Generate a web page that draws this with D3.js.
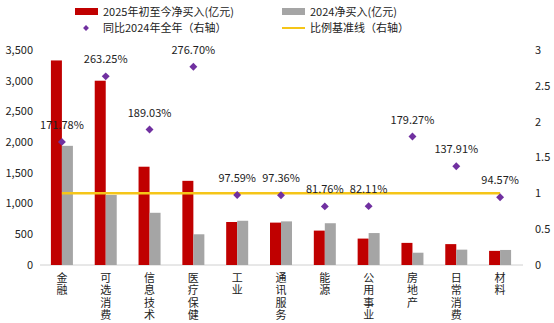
<!DOCTYPE html>
<html><head><meta charset="utf-8">
<script src="https://cdn.jsdelivr.net/npm/d3@7/dist/d3.min.js"></script>
<style>body{margin:0;background:#fff}svg{display:block}text{font-family:"Noto Sans CJK SC","Noto Sans",sans-serif;fill:#222}
.vt{writing-mode:vertical-rl;text-orientation:upright;letter-spacing:1.5px}</style>
</head><body><svg id="c" width="554" height="323"></svg>
<script>
const categories = ["金融","可选消费","信息技术","医疗保健","工业","通讯服务","能源","公用事业","房地产","日常消费","材料"];
const buy2025 = [3330,3000,1600,1370,700,690,560,430,360,340,230];
const buy2024 = [1940,1140,850,500,720,710,680,520,200,250,245];
const ratio = [1.7178,2.6325,1.8903,2.767,0.9759,0.9736,0.8176,0.8211,1.7927,1.3791,0.9457];
const ratioLabels = ["171.78%","263.25%","189.03%","276.70%","97.59%","97.36%","81.76%","82.11%","179.27%","137.91%","94.57%"];
const leftTicks = [0,500,1000,1500,2000,2500,3000,3500];
const rightTicks = [0,0.5,1,1.5,2,2.5,3];
const baseline = 1;
const legendNames = ["2025年初至今净买入(亿元)","2024净买入(亿元)","同比2024年全年（右轴）","比例基准线（右轴）"];

const svg = d3.select("#c");
const x = d3.scaleBand().domain(categories).range([40,522]);
const yL = d3.scaleLinear().domain([0,3500]).range([265,50]);
const yR = d3.scaleLinear().domain([0,3]).range([265,50]);
const bw = 11;

svg.append("line").attr("x1",40).attr("x2",523).attr("y1",yL(0)).attr("y2",yL(0)).attr("stroke","#d0d0d0").attr("stroke-width",1);

svg.append("g").selectAll("text").data(leftTicks).join("text")
  .attr("x",33).attr("y",d=>yL(d)).attr("dy","0.35em").attr("text-anchor","end")
  .attr("font-size",11).text(d=>d3.format(",")(d));
svg.append("g").selectAll("text").data(rightTicks).join("text")
  .attr("x",535).attr("y",d=>yR(d)).attr("dy","0.35em").attr("text-anchor","start")
  .attr("font-size",11).text(d=>d);

svg.append("g").selectAll("rect").data(categories).join("rect")
  .attr("x",d=>x(d)+x.bandwidth()/2-bw).attr("width",bw)
  .attr("y",(d,i)=>yL(buy2025[i])).attr("height",(d,i)=>yL(0)-yL(buy2025[i]))
  .attr("fill","#C00000");
svg.append("g").selectAll("rect").data(categories).join("rect")
  .attr("x",d=>x(d)+x.bandwidth()/2).attr("width",bw)
  .attr("y",(d,i)=>yL(buy2024[i])).attr("height",(d,i)=>yL(0)-yL(buy2024[i]))
  .attr("fill","#A5A5A5");

const cx = d=>x(d)+x.bandwidth()/2;
svg.append("line").attr("x1",cx(categories[0])).attr("x2",cx(categories[categories.length-1]))
  .attr("y1",yR(baseline)).attr("y2",yR(baseline)).attr("stroke","#F5C518").attr("stroke-width",2.5);

const sym = d3.symbol().type(d3.symbolDiamond2).size(40);
svg.append("g").selectAll("path").data(categories).join("path")
  .attr("d",sym).attr("transform",(d,i)=>`translate(${cx(d)},${yR(ratio[i])})`).attr("fill","#7030A0");
svg.append("g").selectAll("text").data(categories).join("text")
  .attr("x",cx).attr("y",(d,i)=>yR(ratio[i])-13).attr("text-anchor","middle")
  .attr("font-size",11).text((d,i)=>ratioLabels[i]);

// category labels, vertical writing
svg.append("g").selectAll("text").data(categories).join("text")
  .attr("class","vt").attr("x",cx).attr("y",272).attr("font-size",11).text(d=>d);

const lg = svg.append("g");
lg.append("rect").attr("x",75).attr("y",8).attr("width",23).attr("height",7).attr("fill","#C00000");
lg.append("text").attr("x",103).attr("y",12).attr("dy","0.35em").attr("font-size",11).text(legendNames[0]);
lg.append("rect").attr("x",282).attr("y",8).attr("width",23).attr("height",7).attr("fill","#A5A5A5");
lg.append("text").attr("x",310).attr("y",12).attr("dy","0.35em").attr("font-size",11).text(legendNames[1]);
lg.append("path").attr("d",d3.symbol().type(d3.symbolDiamond2).size(22)).attr("transform","translate(86,28)").attr("fill","#7030A0");
lg.append("text").attr("x",103).attr("y",28).attr("dy","0.35em").attr("font-size",11).text(legendNames[2]);
lg.append("line").attr("x1",282).attr("x2",305).attr("y1",28).attr("y2",28).attr("stroke","#F5C518").attr("stroke-width",2);
lg.append("text").attr("x",310).attr("y",28).attr("dy","0.35em").attr("font-size",11).text(legendNames[3]);
</script></body></html>
